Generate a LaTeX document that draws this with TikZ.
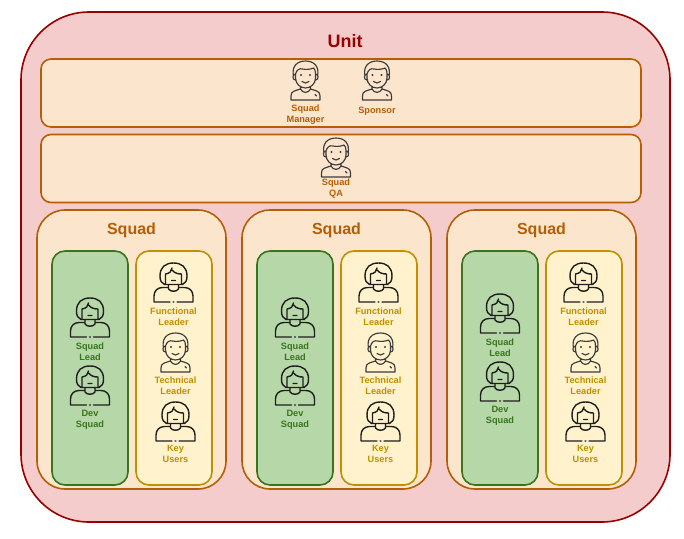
\documentclass[tikz,border=0pt]{standalone}
\usepackage{fontspec}
\setmainfont{Liberation Sans}
\usepackage{xcolor}
\definecolor{unitfill}{HTML}{F4CCCC}
\definecolor{unitline}{HTML}{990000}
\definecolor{squadfill}{HTML}{FCE5CD}
\definecolor{squadline}{HTML}{B45F06}
\definecolor{devfill}{HTML}{B6D7A8}
\definecolor{devline}{HTML}{38761D}
\definecolor{userfill}{HTML}{FFF2CC}
\definecolor{userline}{HTML}{BF9000}
\definecolor{ink}{HTML}{1E1E1E}
\definecolor{softink}{HTML}{3C3C3C}
\tikzset{
	pics/woman/.style n args={3}{code={
		\draw[ink, line width=1.4pt, line cap=round, line join=round]
			(-9,21.5) .. controls (-12,20) and (-13.5,18) .. (-13.5,13)
				.. controls (-13.5,4) and (-8,0) .. (0,0)
				.. controls (8,0) and (13.5,4) .. (13.5,13)
				.. controls (13.5,18) and (12,20) .. (9,21.5) -- (-9,21.5)
			(-8,11) .. controls (-4,10.5) and (-1.5,8) .. (-1.5,5)
			(-1.5,7) .. controls (1,10) and (4,11) .. (8,11)
			(-8,11) -- (-8,21) (8,11) -- (8,21)
			(-2,17.5) -- (2,17.5)
			(-5,21.5) -- (-5,26) .. controls (-3,29) and (3,29) .. (5,26) -- (5,21.5)
			(-5,24.5) -- (-11,24.5) .. controls (-16,24.5) and (-19.5,28) .. (-19.5,33) -- (-19.5,39) -- (-3.5,39)
			(5,24.5) -- (11,24.5) .. controls (16,24.5) and (19.5,28) .. (19.5,33) -- (19.5,39) -- (3.5,39)
			(-0.4,39) -- (0.4,39);
		\node[#2] (-lbl) at (0,#3) {#1};
	}},
	pics/man/.style n args={3}{code={
		\draw[softink, line width=1.15pt, line cap=round, line join=round]
			(-12,15) .. controls (-14,6) and (-9,0) .. (0,0)
				.. controls (9,0) and (14,6) .. (12,15)
			(-10,13) .. controls (-9,9) and (-6,7) .. (-3,8)
				.. controls (1,9) and (6,8) .. (8,7) .. controls (9.5,8) and (10,10) .. (10,13)
			(-10,13) -- (-10,17) .. controls (-10,23) and (-5,27) .. (0,27)
				.. controls (5,27) and (10,23) .. (10,17) -- (10,13)
			(-10,13) .. controls (-13.5,13) and (-13.5,19) .. (-10,19)
			(10,13) .. controls (13.5,13) and (13.5,19) .. (10,19)
			(-3.5,20.5) .. controls (-1.5,22.5) and (1.5,22.5) .. (3.5,20.5)
			(-5,25.5) -- (-5,28) .. controls (-11,30) and (-14.5,30) .. (-14.5,35) -- (-14.5,39) -- (14.5,39) -- (14.5,35)
				.. controls (14.5,30) and (11,30) .. (5,28) -- (5,25.5)
			(-5,28) .. controls (-3,32.5) and (3,32.5) .. (5,28)
			(9.5,33.5) -- (11,35);
		\fill[softink] (-4.5,14) circle (1.1) (4.5,14) circle (1.1);
		\node[#2] (-lbl) at (0,#3) {#1};
	}}
}

\begin{document}
\begin{tikzpicture}[
		x=1pt, y=-1pt,
		box/.style={draw, rectangle, line width=1.6pt, inner sep=0pt},
		unitbox/.style={box, draw=unitline, fill=unitfill, minimum width=649pt, minimum height=510pt, rounded corners=68pt},
		rowbox/.style={box, draw=squadline, fill=squadfill, minimum width=600pt, minimum height=68pt, rounded corners=10pt},
		squadbox/.style={box, draw=squadline, fill=squadfill, minimum width=189pt, minimum height=279pt, rounded corners=28pt},
		devbox/.style={box, draw=devline, fill=devfill, minimum width=76pt, minimum height=234pt, rounded corners=13pt},
		userbox/.style={box, draw=userline, fill=userfill, minimum width=76pt, minimum height=234pt, rounded corners=13pt},
		title/.style={font=\bfseries\fontsize{16}{18}\selectfont, text=squadline, inner sep=0pt},
		lbl/.style={font=\bfseries\fontsize{9.2}{11}\selectfont, align=center, inner sep=0pt},
		rowlbl/.style={lbl, text=squadline},
		devlbl/.style={lbl, text=devline},
		userlbl/.style={lbl, text=userline}]

	\useasboundingbox (0,0) rectangle (684,538);

	\node[unitbox] (unit) at (345.5,267) {};
	\node[title, text=unitline, font=\bfseries\fontsize{18}{20}\selectfont] (unit_title) at (345,41) {Unit};

	\node[rowbox] (row_top) at (341,93) {};
	\node[rowbox] (row_qa) at (341,168.5) {};

	\pic (manager) at (305.5,61) {man={Squad\\Manager}{rowlbl}{53.5}};
	\pic (sponsor) at (377,61) {man={Sponsor}{rowlbl}{50.5}};
	\pic (qa) at (336,138) {man={Squad\\QA}{rowlbl}{51}};

	% one column per squad, the last has its two left people a bit higher
	\foreach \dx/\dy/\n in {0/0/a, 205/0/b, 410/-4/c} {
		\node[squadbox] (squad_\n) at (131.5+\dx,349.5) {};
		\node[title] (squad_title_\n) at (131.5+\dx,230) {Squad};
		\node[devbox] (dev_\n) at (90+\dx,368) {};
		\node[userbox] (user_\n) at (174+\dx,368) {};

		\pic (lead_\n) at (90+\dx,298+\dy) {woman={Squad\\Lead}{devlbl}{53.5}};
		\pic (devs_\n) at (90+\dx,366+\dy) {woman={Dev\\Squad}{devlbl}{53.5}};

		\pic (func_\n) at (173.5+\dx,263) {woman={Functional\\Leader}{userlbl}{53.5}};
		\pic (tech_\n) at (175.5+\dx,333) {man={Technical\\Leader}{userlbl}{52.5}};
		\pic (keys_\n) at (175.5+\dx,402) {woman={Key\\Users}{userlbl}{51.5}};
	}

\end{tikzpicture}
\end{document}
